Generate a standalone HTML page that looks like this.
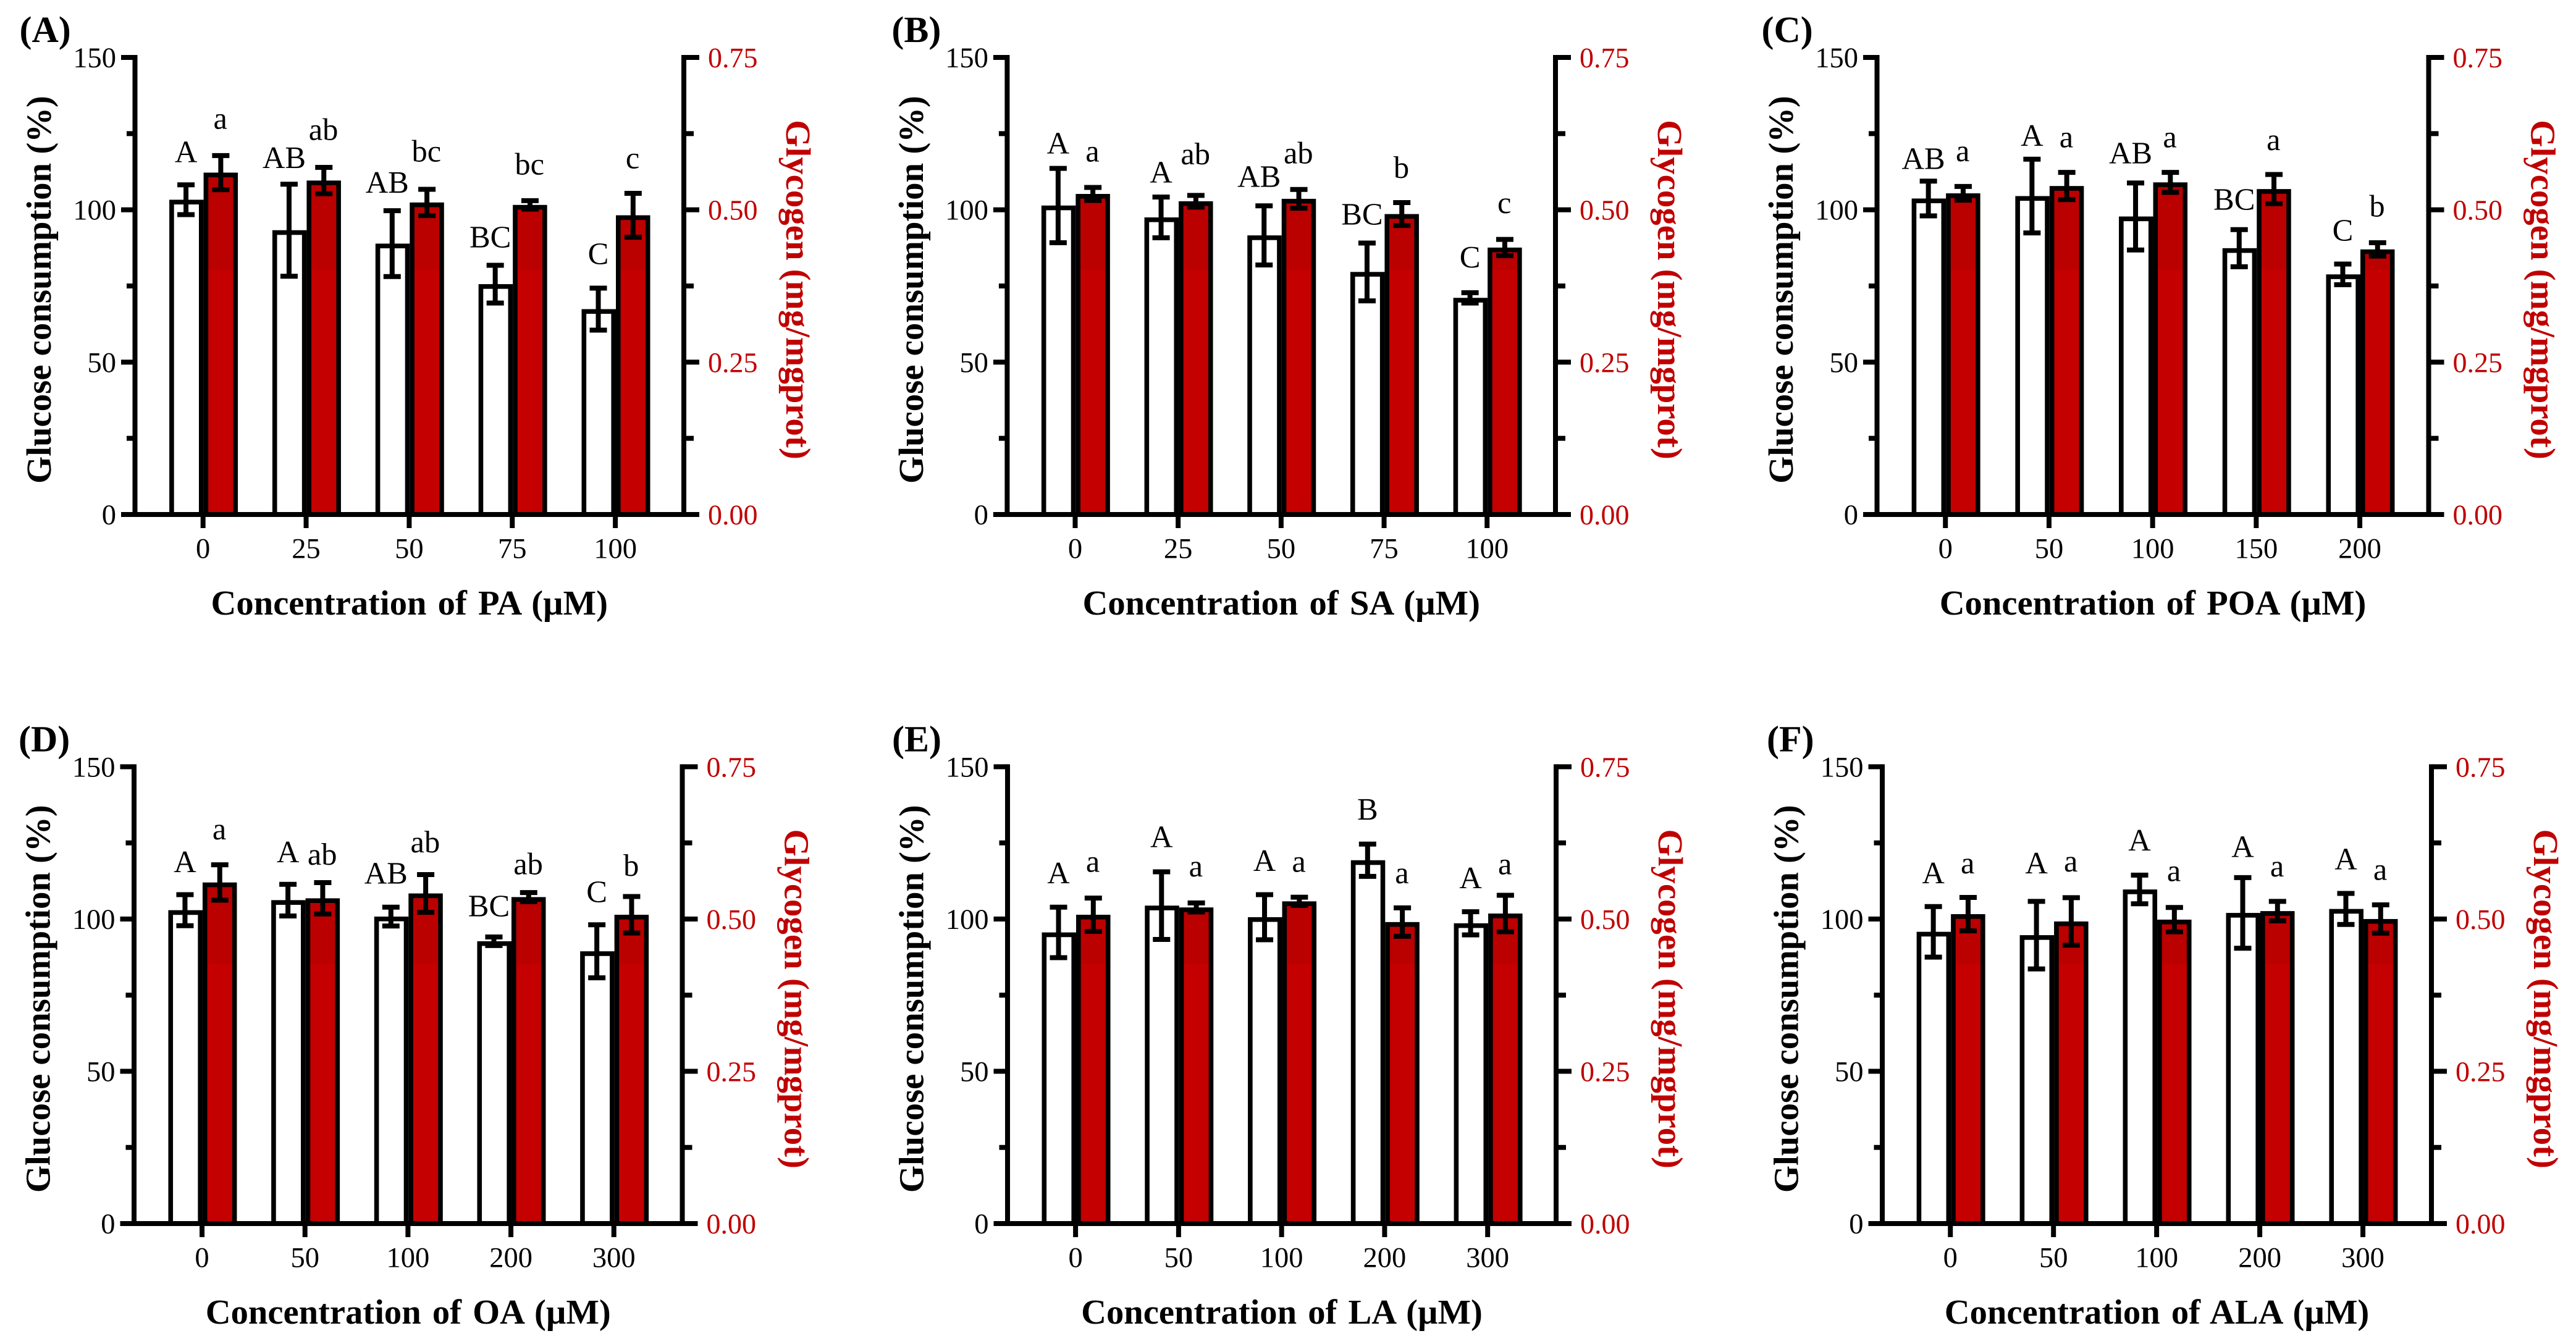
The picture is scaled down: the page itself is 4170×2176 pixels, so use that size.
<!DOCTYPE html>
<html lang="en">
<head>
<meta charset="utf-8">
<title>Glucose consumption and glycogen panels</title>
<style>
html,body{margin:0;padding:0;background:#fff;}
svg{display:block;}
text{font-family:"Liberation Serif","DejaVu Serif",serif;text-rendering:geometricPrecision;}
</style>
</head>
<body>
<svg id="figure" xmlns="http://www.w3.org/2000/svg" width="4170" height="2176" viewBox="0 0 4170 2176">
<rect x="0" y="0" width="4170" height="2176" fill="#ffffff"/>
</svg>
<script>
// Shared axis ticks
const leftTicks = [0, 25, 50, 75, 100, 125, 150];
const leftTickLabels = ['0', '', '50', '', '100', '', '150'];
const rightTicks = [0, 0.125, 0.25, 0.375, 0.5, 0.625, 0.75];
const rightTickLabels = ['0.00', '', '0.25', '', '0.50', '', '0.75'];

// Panel A (PA)
const aDoses = ['0', '25', '50', '75', '100'];
const aGlucose = [103.3, 93.3, 88.9, 75.6, 67.4];
const aGlucoseErr = [4.9, 15.1, 10.8, 6.2, 6.9];
const aGlycogen = [0.561, 0.548, 0.512, 0.508, 0.491];
const aGlycogenErr = [0.028, 0.0216, 0.0216, 0.007, 0.036];
const aGlucoseLetters = ['A', 'AB', 'AB', 'BC', 'C'];
const aGlycogenLetters = ['a', 'ab', 'bc', 'bc', 'c'];
const aGlucoseLetterLevel = [115.6, 113.7, 105.6, 87.7, 82.2];
const aGlycogenLetterLevel = [126.6, 122.9, 115.8, 111.6, 113.6];

// Panel B (SA)
const bDoses = ['0', '25', '50', '75', '100'];
const bGlucose = [101.4, 97.5, 91.6, 79.6, 71.1];
const bGlucoseErr = [12.2, 6.7, 9.7, 9.5, 1.7];
const bGlycogen = [0.526, 0.514, 0.518, 0.493, 0.438];
const bGlycogenErr = [0.0106, 0.0096, 0.0154, 0.0188, 0.0134];
const bGlucoseLetters = ['A', 'A', 'AB', 'BC', 'C'];
const bGlycogenLetters = ['a', 'ab', 'ab', 'b', 'c'];
const bGlucoseLetterLevel = [118.5, 109, 107.5, 95.2, 81.1];
const bGlycogenLetterLevel = [115.8, 114.9, 115.2, 110.5, 98.9];

// Panel C (POA)
const cDoses = ['0', '50', '100', '150', '200'];
const cGlucose = [103.7, 104.5, 97.8, 87.4, 78.8];
const cGlucoseErr = [5.7, 12.1, 11, 6.1, 3.4];
const cGlycogen = [0.527, 0.539, 0.545, 0.534, 0.435];
const cGlycogenErr = [0.0113, 0.0223, 0.0164, 0.024, 0.011];
const cGlucoseLetters = ['AB', 'A', 'AB', 'BC', 'C'];
const cGlycogenLetters = ['a', 'a', 'a', 'a', 'b'];
const cGlucoseLetterLevel = [113.4, 121, 115.2, 100, 89.9];
const cGlycogenLetterLevel = [115.9, 120.5, 120.5, 119.6, 97.8];

// Panel D (OA)
const dDoses = ['0', '50', '100', '200', '300'];
const dGlucose = [102.9, 106.2, 100.8, 92.7, 89.4];
const dGlucoseErr = [5.1, 5.2, 3.1, 1.4, 8.7];
const dGlycogen = [0.56, 0.534, 0.542, 0.536, 0.507];
const dGlycogenErr = [0.029, 0.0257, 0.031, 0.0074, 0.03];
const dGlucoseLetters = ['A', 'A', 'AB', 'BC', 'C'];
const dGlycogenLetters = ['a', 'ab', 'ab', 'ab', 'b'];
const dGlucoseLetterLevel = [115.4, 118.6, 111.6, 100.9, 105.6];
const dGlycogenLetterLevel = [126.1, 117.8, 121.9, 114.7, 114.2];

// Panel E (LA)
const eDoses = ['0', '50', '100', '200', '300'];
const eGlucose = [95.6, 104.4, 100.6, 119.3, 98.6];
const eGlucoseErr = [8.3, 11.1, 7.4, 5.3, 3.8];
const eGlycogen = [0.507, 0.519, 0.529, 0.495, 0.509];
const eGlycogenErr = [0.0274, 0.0074, 0.0068, 0.0233, 0.03];
const eGlucoseLetters = ['A', 'A', 'A', 'B', 'A'];
const eGlycogenLetters = ['a', 'a', 'a', 'a', 'a'];
const eGlucoseLetterLevel = [111.7, 123.6, 115.8, 132.6, 110.1];
const eGlycogenLetterLevel = [115.5, 114, 115.5, 111.7, 114.7];

// Panel F (ALA)
const fDoses = ['0', '50', '100', '200', '300'];
const fGlucose = [95.8, 94.7, 109.7, 102, 103.3];
const fGlucoseErr = [8.3, 11.1, 4.7, 11.6, 5.1];
const fGlycogen = [0.508, 0.496, 0.499, 0.513, 0.5];
const fGlycogenErr = [0.0274, 0.039, 0.02, 0.016, 0.0233];
const fGlucoseLetters = ['A', 'A', 'A', 'A', 'A'];
const fGlycogenLetters = ['a', 'a', 'a', 'a', 'a'];
const fGlucoseLetterLevel = [111.7, 115, 122.5, 120.4, 116.3];
const fGlycogenLetterLevel = [115, 115.6, 112.5, 114, 112.9];

const panels = [
  {tag: '(A)', title: 'Concentration of PA (µM)', doses: aDoses, glucose: aGlucose, glucoseErr: aGlucoseErr, glycogen: aGlycogen, glycogenErr: aGlycogenErr, gl: aGlucoseLetters, yl: aGlycogenLetters, gll: aGlucoseLetterLevel, yll: aGlycogenLetterLevel, left: 218.5, right: 1107, top: 93, bottom: 833, shade: 436.7},
  {tag: '(B)', title: 'Concentration of SA (µM)', doses: bDoses, glucose: bGlucose, glucoseErr: bGlucoseErr, glycogen: bGlycogen, glycogenErr: bGlycogenErr, gl: bGlucoseLetters, yl: bGlycogenLetters, gll: bGlucoseLetterLevel, yll: bGlycogenLetterLevel, left: 1630.4, right: 2518, top: 93, bottom: 833, shade: 436.7},
  {tag: '(C)', title: 'Concentration of POA (µM)', doses: cDoses, glucose: cGlucose, glucoseErr: cGlucoseErr, glycogen: cGlycogen, glycogenErr: cGlycogenErr, gl: cGlucoseLetters, yl: cGlycogenLetters, gll: cGlucoseLetterLevel, yll: cGlycogenLetterLevel, left: 3038.5, right: 3931.5, top: 93, bottom: 833, shade: 436.7},
  {tag: '(D)', title: 'Concentration of OA (µM)', doses: dDoses, glucose: dGlucose, glucoseErr: dGlucoseErr, glycogen: dGlycogen, glycogenErr: dGlycogenErr, gl: dGlucoseLetters, yl: dGlycogenLetters, gll: dGlucoseLetterLevel, yll: dGlycogenLetterLevel, left: 217, right: 1104.5, top: 1241.4, bottom: 1981, shade: 1560},
  {tag: '(E)', title: 'Concentration of LA (µM)', doses: eDoses, glucose: eGlucose, glucoseErr: eGlucoseErr, glycogen: eGlycogen, glycogenErr: eGlycogenErr, gl: eGlucoseLetters, yl: eGlycogenLetters, gll: eGlucoseLetterLevel, yll: eGlycogenLetterLevel, left: 1631, right: 2519, top: 1241.4, bottom: 1981, shade: 1560},
  {tag: '(F)', title: 'Concentration of ALA (µM)', doses: fDoses, glucose: fGlucose, glucoseErr: fGlucoseErr, glycogen: fGlycogen, glycogenErr: fGlycogenErr, gl: fGlucoseLetters, yl: fGlycogenLetters, gll: fGlucoseLetterLevel, yll: fGlycogenLetterLevel, left: 3047, right: 3936, top: 1241.4, bottom: 1981, shade: 1560}
];

const svg = document.getElementById('figure');
const NS = 'http://www.w3.org/2000/svg';
const RED = '#c00000';

function make(tag, attrs, parent) {
  const el = document.createElementNS(NS, tag);
  for (const k in attrs) el.setAttribute(k, attrs[k]);
  parent.appendChild(el);
  return el;
}
function label(str, attrs, parent) {
  const el = make('text', attrs, parent);
  el.textContent = str;
  return el;
}
function block(x0, y0, x1, y1, fill, parent) {
  return make('rect', {x: x0, y: y0, width: x1 - x0, height: y1 - y0, fill: fill}, parent);
}

const defs = make('defs', {}, svg);



panels.forEach(function (p, pi) {
  const W = p.right - p.left;
  const xScale = function (i) { return p.left + W * (0.124 + 0.1878 * i); };
  const yLeft = function (v) { return p.bottom - (v / 150) * (p.bottom - p.top); };
  const yRight = function (v) { return p.bottom - (v / 0.75) * (p.bottom - p.top); };

  // Red fill carries a hard brightness step, as in the reference
  const gradId = 'redFill' + pi;
  const grad = make('linearGradient', {id: gradId, gradientUnits: 'userSpaceOnUse', x1: 0, x2: 0, y1: p.top, y2: p.bottom}, defs);
  const stopAt = (p.shade - p.top) / (p.bottom - p.top);
  make('stop', {offset: stopAt, 'stop-color': '#bb0000'}, grad);
  make('stop', {offset: stopAt, 'stop-color': '#c40000'}, grad);

  const g = make('g', {}, svg);
  
  

  const tagText = label(p.tag, {x: p.left - 187, y: p.top - 25, 'font-size': 60, 'font-weight': 'bold', fill: '#000'}, g);
  
  

  // Bars
  p.doses.forEach(function (dose, i) {
    const cx = xScale(i);
    const sw = 7.6;
    const gy = yLeft(p.glucose[i]);
    const whiteBar = make('rect', {x: cx - 54.6 + sw / 2, y: gy + sw / 2, width: 55.5 - sw, height: p.bottom - gy - sw / 2, fill: '#fff', stroke: '#000', 'stroke-width': sw}, g);
    
    

    const ry = yRight(p.glycogen[i]);
    const redBar = make('rect', {x: cx + 0.9 + sw / 2, y: ry + sw / 2, width: 55.5 - sw, height: p.bottom - ry - sw / 2, fill: 'url(#' + gradId + ')', stroke: '#000', 'stroke-width': sw}, g);
    
    
  });

  // Error bars and significance letters
  p.doses.forEach(function (dose, i) {
    const cx = xScale(i);
    const wx = cx - 27.6;
    const rx = cx + 28.7;

    const gHi = yLeft(p.glucose[i] + p.glucoseErr[i]);
    const gLo = yLeft(p.glucose[i] - p.glucoseErr[i]);
    const gErr = make('path', {d: 'M' + (wx - 14) + ' ' + gHi + 'H' + (wx + 14) + 'M' + wx + ' ' + gHi + 'V' + gLo + 'M' + (wx - 14) + ' ' + gLo + 'H' + (wx + 14), stroke: '#000', 'stroke-width': 8, fill: 'none'}, g);
    
    

    const rHi = yRight(p.glycogen[i] + p.glycogenErr[i]);
    const rLo = yRight(p.glycogen[i] - p.glycogenErr[i]);
    const rErr = make('path', {d: 'M' + (rx - 14) + ' ' + rHi + 'H' + (rx + 14) + 'M' + rx + ' ' + rHi + 'V' + rLo + 'M' + (rx - 14) + ' ' + rLo + 'H' + (rx + 14), stroke: '#000', 'stroke-width': 8, fill: 'none'}, g);
    
    

    const gShift = p.gl[i].length > 1 ? -8 : 0;
    const gLetter = label(p.gl[i], {x: wx + gShift, y: yLeft(p.gll[i]), 'font-size': 50.5, 'text-anchor': 'middle', fill: '#000'}, g);
    
    

    const rLetter = label(p.yl[i], {x: cx + 28, y: yLeft(p.yll[i]), 'font-size': 50.5, 'text-anchor': 'middle', fill: '#000'}, g);
    
    
  });

  // Left axis
  const leftLine = block(p.left - 4, p.top - 4, p.left + 4, p.bottom + 4, '#000', g);
  
  
  leftTicks.forEach(function (t, i) {
    const y = yLeft(t);
    const major = leftTickLabels[i] !== '';
    const tick = block(p.left - (major ? 22.5 : 13.5), y - 4, p.left, y + 4, '#000', g);
    
    
    if (major) {
      const tl = label(leftTickLabels[i], {x: p.left - 30.5, y: y + 16, 'font-size': 46.5, 'text-anchor': 'end', fill: '#000'}, g);
      
      
    }
  });

  // Right axis
  const rightLine = block(p.right - 4, p.top - 4, p.right + 4, p.bottom + 4, '#000', g);
  
  
  rightTicks.forEach(function (t, i) {
    const y = yRight(t);
    const major = rightTickLabels[i] !== '';
    const tick = block(p.right, y - 4, p.right + (major ? 25 : 16), y + 4, '#000', g);
    
    
    if (major) {
      const tl = label(rightTickLabels[i], {x: p.right + 39, y: y + 16, 'font-size': 46, fill: RED}, g);
      
      
    }
  });

  // X axis
  const baseLine = block(p.left - 22.5, p.bottom - 4, p.right + 25, p.bottom + 4, '#000', g);
  
  
  p.doses.forEach(function (dose, i) {
    const cx = xScale(i);
    const tick = block(cx - 4, p.bottom, cx + 4, p.bottom + 22, '#000', g);
    
    
    const tl = label(dose, {x: cx, y: p.bottom + 70.5, 'font-size': 46.5, 'text-anchor': 'middle', fill: '#000'}, g);
    
    
  });

  // Axis titles
  const midY = (p.top + p.bottom) / 2 + 6;
  const xTitle = label(p.title, {x: (p.left + p.right) / 2, y: p.bottom + 162, 'font-size': 56.6, 'font-weight': 'bold', 'text-anchor': 'middle', fill: '#000', style: 'word-spacing:4px'}, g);
  
  

  const yTitle = label('Glucose consumption (%)', {x: 0, y: 0, transform: 'translate(' + (p.left - 136.5) + ' ' + midY + ') rotate(-90)', 'font-size': 56.8, 'font-weight': 'bold', 'text-anchor': 'middle', fill: '#000'}, g);
  
  

  const rTitle = label('Glycogen (mg/mgprot)', {x: 0, y: 0, transform: 'translate(' + (p.right + 166) + ' ' + midY + ') rotate(90)', 'font-size': 56.8, 'font-weight': 'bold', 'text-anchor': 'middle', fill: RED}, g);
  
  
});
</script>
</body>
</html>
